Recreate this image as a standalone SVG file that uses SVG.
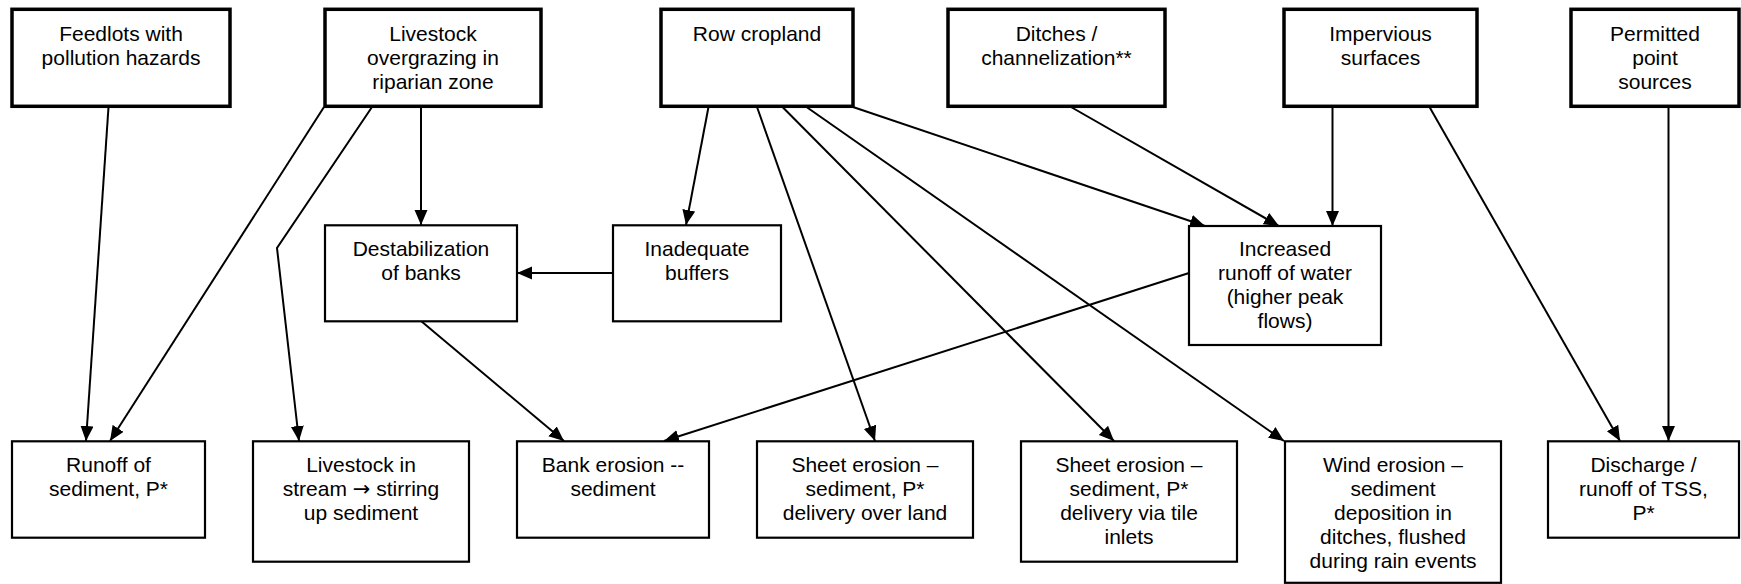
<svg xmlns="http://www.w3.org/2000/svg" width="1741" height="584" viewBox="0 0 1741 584">
<style>
.top rect{fill:#fff;stroke:#000;stroke-width:3.5}
.box rect{fill:#fff;stroke:#000;stroke-width:2.2}
text{font-family:"Liberation Sans",Arial,sans-serif;font-size:21px;fill:#000;text-anchor:middle}
.arw{font-family:"DejaVu Sans",sans-serif}
.c line,.c polyline{stroke:#000;stroke-width:2;fill:none;marker-end:url(#ah)}
</style>
<defs>
<marker id="ah" markerUnits="userSpaceOnUse" markerWidth="16" markerHeight="14" refX="15" refY="6.5" orient="auto">
<path d="M0,0 L15,6.5 L0,13 z" fill="#000"/>
</marker>
</defs>
<rect width="1741" height="584" fill="#fff"/>
<g class="c" id="connectors">
<line x1="108.5" y1="107" x2="86" y2="441"/>
<line x1="324" y1="107" x2="110" y2="441"/>
<polyline points="372,107 277,248 299,441"/>
<line x1="421" y1="107" x2="421" y2="225"/>
<line x1="613" y1="273" x2="517" y2="273"/>
<line x1="421" y1="321" x2="564" y2="441"/>
<line x1="708.5" y1="107" x2="686" y2="225"/>
<line x1="757" y1="107" x2="875" y2="441"/>
<line x1="782.5" y1="107" x2="1114" y2="441"/>
<line x1="806.5" y1="107" x2="1284" y2="441"/>
<line x1="853" y1="107" x2="1205" y2="226"/>
<line x1="1071" y1="107" x2="1279" y2="226"/>
<line x1="1332.5" y1="107" x2="1332.5" y2="226"/>
<line x1="1189" y1="273" x2="664" y2="441"/>
<line x1="1429.5" y1="107" x2="1620" y2="441"/>
<line x1="1668.5" y1="107" x2="1668.5" y2="441"/>
</g>
<g class="top" id="feedlots"><rect x="12" y="9.3" width="218" height="97"/><text x="121" y="40.7">Feedlots with</text><text x="121" y="65">pollution hazards</text></g>
<g class="top" id="livestock-overgrazing"><rect x="325" y="9.3" width="216" height="97"/><text x="433" y="40.7">Livestock</text><text x="433" y="65">overgrazing in</text><text x="433" y="89.3">riparian zone</text></g>
<g class="top" id="row-cropland"><rect x="661" y="9.3" width="192" height="97"/><text x="757" y="40.7">Row cropland</text></g>
<g class="top" id="ditches"><rect x="948" y="9.3" width="217" height="97"/><text x="1056.5" y="40.7">Ditches /</text><text x="1056.5" y="65">channelization**</text></g>
<g class="top" id="impervious"><rect x="1284" y="9.3" width="193" height="97"/><text x="1380.5" y="40.7">Impervious</text><text x="1380.5" y="65">surfaces</text></g>
<g class="top" id="permitted"><rect x="1571" y="9.3" width="168" height="97"/><text x="1655" y="40.7">Permitted</text><text x="1655" y="65">point</text><text x="1655" y="89.3">sources</text></g>
<g class="box" id="destabilization"><rect x="325" y="225.3" width="192" height="96"/><text x="421" y="256">Destabilization</text><text x="421" y="280">of banks</text></g>
<g class="box" id="inadequate-buffers"><rect x="613" y="225.3" width="168" height="96"/><text x="697" y="256">Inadequate</text><text x="697" y="280">buffers</text></g>
<g class="box" id="increased-runoff"><rect x="1189" y="226" width="192" height="119"/><text x="1285" y="256">Increased</text><text x="1285" y="280">runoff of water</text><text x="1285" y="304">(higher peak</text><text x="1285" y="328">flows)</text></g>
<g class="box" id="runoff-sediment"><rect x="12" y="441.3" width="193" height="96.4"/><text x="108.5" y="472">Runoff of</text><text x="108.5" y="496">sediment, P*</text></g>
<g class="box" id="livestock-stream"><rect x="253" y="441.3" width="216" height="120.4"/><text x="361" y="472">Livestock in</text><text x="361" y="496">stream <tspan class="arw">→</tspan> stirring</text><text x="361" y="520">up sediment</text></g>
<g class="box" id="bank-erosion"><rect x="517" y="441.3" width="192" height="96.4"/><text x="613" y="472">Bank erosion --</text><text x="613" y="496">sediment</text></g>
<g class="box" id="sheet-land"><rect x="757" y="441.3" width="216" height="96.4"/><text x="865" y="472">Sheet erosion –</text><text x="865" y="496">sediment, P*</text><text x="865" y="520">delivery over land</text></g>
<g class="box" id="sheet-tile"><rect x="1021" y="441.3" width="216" height="120.4"/><text x="1129" y="472">Sheet erosion –</text><text x="1129" y="496">sediment, P*</text><text x="1129" y="520">delivery via tile</text><text x="1129" y="544">inlets</text></g>
<g class="box" id="wind-erosion"><rect x="1285" y="441.3" width="216" height="141.5"/><text x="1393" y="472">Wind erosion –</text><text x="1393" y="496">sediment</text><text x="1393" y="520">deposition in</text><text x="1393" y="544">ditches, flushed</text><text x="1393" y="568">during rain events</text></g>
<g class="box" id="discharge"><rect x="1548" y="441.3" width="191" height="96.4"/><text x="1643.5" y="472">Discharge /</text><text x="1643.5" y="496">runoff of TSS,</text><text x="1643.5" y="520">P*</text></g>
</svg>
